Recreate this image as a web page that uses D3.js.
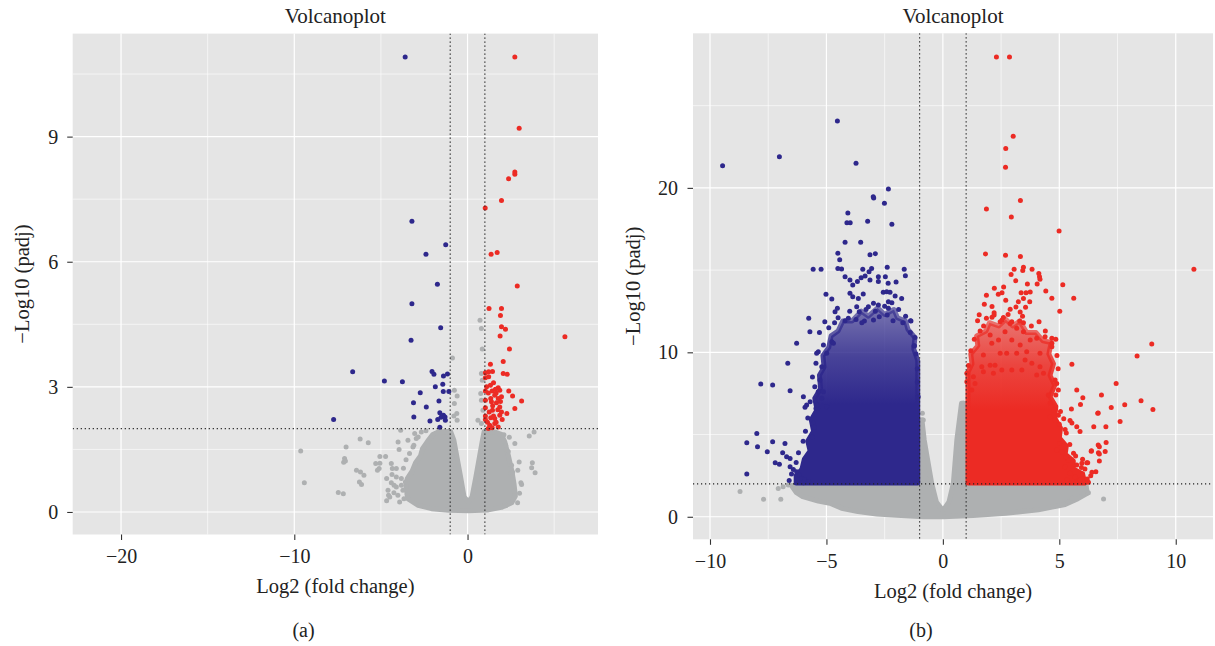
<!DOCTYPE html>
<html>
<head>
<meta charset="utf-8">
<script src="https://cdn.jsdelivr.net/npm/d3@7"></script>
<style>
  body { margin: 0; background: #ffffff; }
  svg { display: block; }
  text { font-family: "Liberation Serif", "Times New Roman", serif; fill: #222222; }
</style>
</head>
<body>
<script>
// ---------------------------------------------------------------
// Volcano plots: log2 fold change vs -log10 adjusted p value
// ---------------------------------------------------------------

// Significance cut-offs
const fcCut = [-1, 1];
const padjCut = 2;

// Tick values
const aXTicks = [-20, -10, 0];
const aYTicks = [0, 3, 6, 9];
const bXTicks = [-10, -5, 0, 5, 10];
const bYTicks = [0, 10, 20];

// ---------- Panel (a) ----------
// down-regulated genes [log2FC, -log10 padj]
const aBlue = [
  [-3.6,10.91],[-3.21,6.97],[-1.26,6.41],[-2.4,6.18],[-1.74,5.46],[-3.21,4.99],[-1.55,4.42],
  [-3.26,4.12],[-6.63,3.36],[-4.8,3.14],[-3.76,3.12],[-2.05,3.37],[-1.94,3.3],[-1.39,3.26],
  [-1.16,3.31],[-1.43,3.06],[-1.86,3.0],[-1.4,2.89],[-1.08,2.89],[-2.73,2.86],[-3.12,2.62],
  [-1.65,2.66],[-2.38,2.52],[-3.1,2.28],[-7.73,2.22],[-1.6,2.38],[-1.39,2.32],[-1.53,2.27],
  [-1.3,2.28],[-2.17,2.18],[-1.72,2.22],[-1.28,2.2],[-1.6,2.03]
];
// up-regulated genes
const aRed = [
  [2.73,10.91],[2.98,9.2],[2.73,8.15],[2.73,8.1],[2.37,7.99],[1.96,7.47],[1.02,7.29],
  [1.36,6.18],[1.71,6.22],[2.87,5.42],[1.24,4.88],[1.96,4.88],[1.9,4.71],[1.96,4.44],
  [2.19,4.38],[1.88,4.22],[5.62,4.2],[2.42,3.91],[2.06,3.61],[1.32,3.54],
  [1.03,3.34],[1.22,3.36],[1.44,3.37],[2.06,3.32],[2.29,3.3],[1.03,3.22],[1.22,3.24],
  [1.32,3.04],[1.77,2.98],[1.03,2.9],[1.42,2.9],[1.61,2.94],[1.86,2.92],[2.38,2.9],
  [2.6,2.78],[3.12,2.66],[1.57,2.8],[1.34,2.72],[1.77,2.72],[1.96,2.76],[1.03,2.68],
  [1.38,2.64],[1.67,2.62],[1.03,2.5],[1.44,2.44],[1.86,2.52],[1.96,2.4],[2.73,2.48],
  [2.27,2.36],[1.03,2.3],[1.34,2.26],[1.57,2.24],[1.86,2.32],[2.0,2.22],[1.03,2.22],
  [1.28,2.08],[1.57,2.12],[1.77,2.04],[1.42,2.02],[1.2,2.0],[1.1,3.0],[1.5,3.1],
  [1.65,2.85],[1.2,2.85],[1.45,2.55],[1.75,2.45],[1.25,2.4],[1.9,2.65],[1.5,2.3],
  [1.15,2.15],[1.65,2.15]
];
// non-significant genes outside the dense core
const aGray = [
  [0.72,4.6],[0.8,4.4],[0.85,3.91],[-0.87,3.69],
  [-0.76,2.92],[-0.6,2.78],[-0.76,2.6],[-0.62,2.36],[-0.79,2.3],[-0.6,2.2],
  [0.8,3.32],[0.85,3.16],[0.76,2.84],[0.8,2.68],[0.89,2.44],[0.6,2.2],[0.8,2.12],
  [-9.63,1.46],[-9.42,0.7],[-7.46,0.47],[-7.17,0.44],[-7.01,1.56],[-6.2,1.75],[-5.73,1.66],
  [-7.1,1.28],[-7.15,1.19],[-7.05,1.22],[-6.41,1.0],[-6.18,0.96],[-5.98,0.88],[-6.24,0.72],
  [-6.12,0.66],[-5.06,1.33],[-4.73,1.33],[-5.06,1.17],[-5.3,1.16],[-5.1,1.04],[-5.2,1.0],
  [-4.67,0.8],[-4.59,0.52],[-4.67,0.27],[-4.49,0.36],[-4.24,0.64],[-4.34,1.04],[-4.01,1.68],
  [-3.86,1.96],[-3.95,1.5],
  [-4.4,1.16],[-4.11,1.04],[-4.36,0.9],[-4.11,0.84],[-3.82,0.8],[-3.59,0.72],[-3.82,0.64],
  [-4.11,0.6],[-4.25,0.46],[-4.02,0.4],[-3.73,0.52],[-3.48,0.42],[-3.67,0.32],[-3.92,0.24],
  [-4.4,0.7],[-4.56,0.4],[-3.7,1.05],[-3.55,1.25],[-3.35,1.4],[-3.1,1.6],[-2.85,1.8],
  [-3.05,1.88],[-2.67,1.92],[-3.44,1.72],[-3.15,1.56],[-2.96,1.76],[-2.4,1.95],
  [2.41,1.79],[2.73,1.64],[2.98,1.2],[3.56,1.82],[3.84,1.92],[3.74,1.18],[3.7,1.06],
  [3.9,0.94],[3.08,0.7],[3.12,0.66],[2.89,0.22],[2.54,1.12],[2.48,0.92],
  [2.1,1.85],[2.2,1.6],[2.35,1.45],[2.6,0.95],[2.7,0.5],[2.2,0.15],[2.9,1.0],[3.0,0.45]
];
// outline of the dense non-significant core (point centres)
const aGrayCore = [
  [-3.45,0.32],[-3.55,0.6],[-3.48,0.8],[-3.2,0.98],[-3.0,1.18],[-2.72,1.34],[-2.6,1.52],
  [-2.3,1.7],[-2.0,1.86],[-1.7,1.92],[-1.25,1.93],[-0.98,1.93],[-0.79,1.72],[-0.4,0.84],
  [-0.2,0.36],[0.04,0.24],[0.26,0.36],[0.48,0.84],[0.86,1.72],[0.96,1.93],[1.55,1.92],
  [1.95,1.86],[2.15,1.68],[2.34,1.38],[2.55,1.0],[2.68,0.68],[2.76,0.38],[2.55,0.22],
  [1.95,0.11],[1.2,0.05],[0.04,0.03],[-1.1,0.04],[-2.08,0.08],[-2.85,0.16]
];

// ---------- Panel (b) ----------
const bBlue = [
  [-9.46,21.35],[-7.02,21.9],[-4.53,24.07],[-3.73,21.5],[-2.34,19.93],[-2.99,19.46],[-2.97,19.38],
  [-2.51,19.06],[-4.08,18.47],[-4.12,17.88],[-3.98,17.88],[-3.23,17.97],[-2.19,17.79],[-4.2,16.69],
  [-3.53,16.69],[-4.51,16.02],[-3.13,15.94],[-2.9,16.0],[-4.43,15.63],[-5.57,15.05],[-5.23,15.05],
  [-4.51,15.1],[-4.35,15.07],[-3.44,15.05],[-3.06,15.1],[-2.39,15.17],[-1.66,15.05],[-1.61,14.66],
  [-4.2,14.6],[-3.99,14.4],[-3.87,14.1],[-3.67,14.3],[-3.51,14.54],[-3.34,14.64],[-3.17,14.9],
  [-3.13,14.4],[-2.77,14.6],[-2.77,14.3],[-2.47,14.6],[-2.35,14.2],[-2.01,14.28],[-5.02,13.53],
  [-4.77,13.24],[-3.99,13.59],[-3.87,13.38],[-3.63,13.28],[-3.42,13.55],[-2.56,13.65],[-2.41,13.69],
  [-2.27,13.65],[-2.05,13.42],[-1.77,13.28],[-3.7,12.77],[-3.59,12.47],[-3.2,12.77],[-2.98,12.98],
  [-2.77,12.88],[-2.34,13.08],[-2.19,13.02],[-2.34,12.68],[-4.53,12.68],[-4.63,12.47],[-5.76,12.07],
  [-4.06,12.07],[-3.37,11.9],[-1.37,11.9],
  [-5.07,11.86],[-4.65,11.8],[-4.2,11.92],[-3.73,12.0],[-3.48,11.8],[-2.98,11.96],[-2.73,12.17],
  [-2.39,12.27],[-2.14,11.92],[-1.72,11.8],[-1.39,11.92],
  [-6.28,10.55],[-6.66,9.33],[-7.82,8.07],[-7.31,8.01],[-6.56,7.66],[-5.99,7.3],[-5.71,11.25],
  [-5.85,6.8],[-5.92,6.66],[-5.45,6.59],[-5.38,6.59],[-5.56,5.68],[-5.53,5.44],[-5.62,4.87],
  [-7.99,5.07],[-8.42,4.5],[-7.96,4.26],[-7.31,4.56],[-6.78,4.46],[-7.54,3.96],[-6.88,3.89],
  [-6.71,3.65],[-6.56,3.55],[-7.2,3.29],[-7.02,3.2],[-6.56,3.04],[-6.42,2.88],[-6.28,2.74],
  [-6.16,2.53],[-6.06,2.33],[-5.94,2.27],[-5.77,2.13],[-5.99,2.07],[-8.42,2.6],
  [-5.45,9.33],[-5.42,9.94],[-5.35,10.04],[-5.2,9.12],[-4.99,9.94],[-5.13,10.44],[-4.77,10.65],
  [-4.7,10.55],[-5.28,8.32],[-5.35,7.6],[-5.13,7.6],[-5.2,7.2],[-5.42,6.8],[-4.99,6.69],
  [-1.24,10.38],[-1.22,10.4],[-1.06,7.3],
  [-5.6,8.5],[-5.5,7.9],[-5.7,7.0],[-5.8,6.0],[-5.9,5.2],[-6.0,4.6],[-6.2,3.9],[-6.3,3.3],
  [-6.5,2.6],[-6.6,2.2],[-5.3,11.2],[-4.9,11.5],[-4.5,12.1],[-4.0,12.5],[-3.3,12.6],
  [-2.9,12.5],[-2.5,12.8],[-1.9,12.6],[-1.6,12.2],[-1.4,11.2],[-1.2,10.9],[-1.15,9.9],
  [-1.1,9.0],[-1.1,8.2]
];
const bRed = [
  [2.3,27.96],[2.86,27.96],[3.02,23.14],[2.7,22.39],[2.69,21.25],[3.33,19.24],[1.87,18.72],
  [2.94,18.23],[4.99,17.38],[1.83,15.98],[2.69,15.9],[3.33,15.82],[10.78,15.05],
  [3.06,15.05],[3.46,15.17],[3.43,14.97],[3.83,15.05],[4.12,14.8],[4.15,14.6],[4.17,14.44],
  [2.93,14.74],[3.13,14.36],[3.63,14.15],[4.05,14.15],[5.15,14.11],
  [2.21,13.89],[2.61,13.97],[2.38,13.53],[2.54,13.63],[1.87,13.47],[2.7,13.16],[3.36,13.63],
  [3.57,13.63],[3.75,13.67],[4.42,13.73],[4.68,13.29],[5.62,13.29],[1.78,12.92],[2.11,12.78],
  [2.89,12.62],[3.14,12.76],[3.55,12.74],[3.24,13.08],[3.46,13.27],[3.73,13.08],[5.02,12.5],
  [3.32,12.45],[3.42,12.2],[1.56,12.28],[2.11,12.14],[2.6,12.12],
  [1.49,11.92],[1.87,12.07],[2.2,12.27],[2.54,11.96],[2.96,11.86],[3.46,11.8],[4.13,11.86],
  [1.74,9.84],[2.03,9.22],[2.24,9.22],[2.46,9.94],[2.74,9.94],[3.17,9.94],[3.6,10.04],
  [4.17,9.94],[4.68,10.85],[4.68,10.55],[4.68,10.34],[4.39,10.95],[4.03,10.85],[3.75,10.75],
  [3.46,11.25],[3.17,11.46],[2.89,11.76],[2.46,11.86],[2.03,11.05],[2.1,10.55],[2.39,10.75],
  [2.67,11.25],[2.96,10.75],[3.32,10.44],[3.53,9.53],[3.82,9.33],[4.17,9.12],[4.32,8.72],
  [4.03,8.62],[3.39,8.92],[2.96,8.92],[2.53,8.92],[2.17,8.72],[1.67,9.12],[1.31,8.52],
  [1.38,8.11],[1.03,8.72],[1.03,8.21],[1.24,7.71],[1.74,8.82],
  [8.97,10.5],[8.34,9.77],[5.54,9.27],[7.44,8.11],[5.75,7.71],[6.81,7.4],[6.01,7.24],
  [8.51,7.06],[7.81,6.81],[9.02,6.53],[7.23,6.65],[5.52,6.55],[6.67,6.31],[5.91,6.83],
  [7.61,5.8],[6.48,5.47],[7.0,5.47],[5.89,5.19],[5.19,5.96],[5.54,5.7],[5.75,5.47],
  [5.46,5.86],[5.0,5.63],[5.25,5.31],[7.01,4.52],[6.67,4.36],[6.68,3.89],[6.97,3.97],
  [6.37,3.98],[6.72,3.39],[6.57,2.74],[6.18,3.29],[5.97,3.25],[5.75,3.15],[5.61,3.86],
  [5.39,3.45],[5.25,3.04],[5.46,2.64],[5.68,2.43],[5.89,2.23],[5.32,2.23],[5.01,4.46],
  [4.89,4.06],[5.11,3.96],[5.29,3.65],[4.6,6.08],[4.82,5.88],[4.96,6.18],[4.75,6.49],
  [4.6,6.9],[4.89,8.11],[4.96,7.71],[4.82,8.31],[4.53,7.4],[6.72,4.26],[6.72,3.81],
  [6.38,4.02],[6.22,3.28],[6.65,6.29],[6.2,2.3],[6.0,2.6],[6.35,2.5],[6.1,2.9],
  [1.1,9.2],[1.2,10.1],[1.35,10.8],[1.6,11.3],[1.75,11.6],[2.2,12.4],[2.8,12.3],[3.3,11.9],
  [3.8,11.6],[4.4,11.3],[4.85,10.8],[4.9,9.8],[4.95,9.0],[4.85,7.4],[5.05,6.4],[5.3,5.1],
  [5.45,4.4],[5.7,3.7],[5.95,3.0],[6.25,2.1],[6.4,2.7],[6.0,3.5]
];
const bGray = [
  [-8.71,1.54],[-7.7,1.06],[-6.96,1.06],[-7.07,1.72],[-6.86,1.83],[-6.64,1.93],
  [6.9,1.08],[5.68,1.83],[6.14,1.9],[6.04,1.42],[6.25,1.46],[5.54,1.12],[5.39,0.91],
  [-0.84,5.88],[-0.88,6.3],[0.88,6.9],[0.85,6.5]
];
// outline of the non-significant band along the bottom (point centres)
const bGrayCore = [
  [-6.5,1.9],[-1.08,1.9],[-0.9,5.9],[-0.8,4.66],[-0.48,2.03],[-0.28,0.9],[-0.04,0.45],
  [0.04,0.45],[0.26,0.9],[0.45,2.03],[0.6,4.66],[0.8,6.9],[0.9,6.9],[1.08,1.9],
  [6.15,1.9],[6.2,1.42],[5.8,1.1],[5.25,0.75],[4.1,0.42],[2.7,0.22],[1.3,0.08],
  [0.02,0.0],[-0.84,0.0],[-1.98,0.09],[-2.84,0.17],[-3.65,0.32],[-4.35,0.52],
  [-4.8,0.8],[-5.35,0.95],[-6.02,1.22],[-6.3,1.48]
];
// outlines of the crowded down/up-regulated clusters (point centres);
// crowding thins out towards the top of each cluster
const bBlueCloud = [
  [-1.08,2.05],[-1.08,9.5],[-1.25,10.2],[-1.2,10.9],[-1.5,11.4],[-1.6,11.9],[-1.95,12.1],
  [-2.1,12.6],[-2.5,12.3],[-2.8,12.7],[-3.2,12.2],[-3.5,12.5],[-3.9,11.9],[-4.3,11.9],
  [-4.5,11.3],[-4.8,11.0],[-4.9,10.3],[-5.15,9.8],[-5.1,9.1],[-5.3,8.6],[-5.25,7.8],
  [-5.5,7.2],[-5.4,6.5],[-5.65,5.9],[-5.55,5.2],[-5.8,4.6],[-5.7,4.0],[-5.95,3.5],
  [-6.05,2.9],[-6.3,2.5],[-6.3,2.05]
];
const bRedCloud = [
  [1.08,2.05],[1.08,8.8],[1.25,9.3],[1.2,9.9],[1.5,10.4],[1.45,11.0],[1.85,11.3],[2.0,11.8],
  [2.4,11.6],[2.7,12.0],[3.0,11.6],[3.3,11.9],[3.6,11.2],[4.0,11.2],[4.3,10.7],[4.65,10.6],
  [4.55,9.9],[4.75,9.3],[4.6,8.6],[4.8,8.0],[4.6,7.3],[4.85,6.7],[4.8,6.0],[5.05,5.4],
  [5.0,4.8],[5.3,4.3],[5.25,3.8],[5.6,3.4],[5.6,2.9],[6.0,2.6],[6.1,2.05]
];

// ---------- colours ----------
const colDown = "#2E288C";
const colUp = "#EC2B24";
const colNs = "#AEB0B1";
const colPanel = "#E5E5E5";

const W = 1215, H = 646;
const svg = d3.select("body").append("svg")
  .attr("width", W).attr("height", H)
  .attr("viewBox", `0 0 ${W} ${H}`);
const defs = svg.append("defs");

// vertical fade used for the crowded clusters: opaque at the base, thinner at the top
function fadeGradient(id, color) {
  const lg = defs.append("linearGradient").attr("id", id)
    .attr("x1", 0).attr("y1", 1).attr("x2", 0).attr("y2", 0);
  [[0, 1], [0.45, 1], [0.72, 0.86], [1, 0.6]].forEach(([o, a]) =>
    lg.append("stop").attr("offset", o).attr("stop-color", color).attr("stop-opacity", a));
  return `url(#${id})`;
}
const fillDown = fadeGradient("fade-down", colDown);
const fillUp = fadeGradient("fade-up", colUp);

const panels = [
  {
    id: "a", left: 72.7, right: 598, top: 33.6, bottom: 534.5,
    xDom: [-22.79, 7.53], yDom: [-0.54, 11.47],
    xTicks: aXTicks, yTicks: aYTicks,
    xMinor: [-15, -5, 5], yMinor: [1.5, 4.5, 7.5, 10.5],
    yPad: 9, xPad: 8.8, yTitleX: 29, caption: "(a)", capX: 303.5,
    layers: [
      { area: aGrayCore, paint: colNs },
      { pts: aGray, color: colNs },
      { pts: aBlue, color: colDown },
      { pts: aRed, color: colUp }
    ]
  },
  {
    id: "b", left: 693, right: 1213, top: 33.3, bottom: 539.3,
    xDom: [-10.73, 11.6], yDom: [-1.37, 29.4],
    xTicks: bXTicks, yTicks: bYTicks,
    xMinor: [-7.5, -2.5, 2.5, 7.5], yMinor: [5, 15, 25],
    yPad: 9.5, xPad: 9, yTitleX: 640, caption: "(b)", capX: 921,
    layers: [
      { area: bGrayCore, paint: colNs },
      { pts: bGray, color: colNs },
      { area: bBlueCloud, paint: fillDown },
      { pts: bBlue, color: colDown },
      { area: bRedCloud, paint: fillUp },
      { pts: bRed, color: colUp }
    ]
  }
];

panels.forEach(p => {
  const x = d3.scaleLinear().domain(p.xDom).range([p.left, p.right]);
  const y = d3.scaleLinear().domain(p.yDom).range([p.bottom, p.top]);
  const g = svg.append("g").attr("class", "panel-" + p.id);

  // panel background
  g.append("rect")
    .attr("x", p.left).attr("y", p.top)
    .attr("width", p.right - p.left).attr("height", p.bottom - p.top)
    .attr("fill", colPanel);

  // grid lines
  const grid = g.append("g").attr("stroke", "#ffffff").attr("fill", "none");
  p.xMinor.forEach(v => grid.append("line")
    .attr("x1", x(v)).attr("x2", x(v)).attr("y1", p.top).attr("y2", p.bottom)
    .attr("stroke-width", 0.6));
  p.yMinor.forEach(v => grid.append("line")
    .attr("y1", y(v)).attr("y2", y(v)).attr("x1", p.left).attr("x2", p.right)
    .attr("stroke-width", 0.6));
  p.xTicks.forEach(v => grid.append("line")
    .attr("x1", x(v)).attr("x2", x(v)).attr("y1", p.top).attr("y2", p.bottom)
    .attr("stroke-width", 1.2));
  p.yTicks.forEach(v => grid.append("line")
    .attr("y1", y(v)).attr("y2", y(v)).attr("x1", p.left).attr("x2", p.right)
    .attr("stroke-width", 1.2));

  // clip marks to the panel
  const clipId = "clip-" + p.id;
  defs.append("clipPath").attr("id", clipId)
    .append("rect")
    .attr("x", p.left).attr("y", p.top)
    .attr("width", p.right - p.left).attr("height", p.bottom - p.top);
  const plot = g.append("g").attr("clip-path", `url(#${clipId})`);

  const outline = d3.line()
    .x(d => x(d[0])).y(d => y(d[1]))
    .curve(d3.curveLinearClosed);

  p.layers.forEach(layer => {
    if (layer.area) {
      // crowded region: outline through the outermost point centres, widened by a point radius
      plot.append("path")
        .datum(layer.area)
        .attr("d", outline)
        .attr("fill", layer.paint)
        .attr("stroke", layer.paint)
        .attr("stroke-width", 5)
        .attr("stroke-linejoin", "round");
    } else {
      plot.append("g").selectAll("circle")
        .data(layer.pts)
        .join("circle")
        .attr("cx", d => x(d[0]))
        .attr("cy", d => y(d[1]))
        .attr("r", 2.5)
        .attr("fill", layer.color);
    }
  });

  // threshold lines
  const thr = plot.append("g")
    .attr("stroke", "#222222").attr("stroke-width", 1.2)
    .attr("stroke-dasharray", "1.2,2.8").attr("fill", "none");
  fcCut.forEach(v => thr.append("line")
    .attr("x1", x(v)).attr("x2", x(v)).attr("y1", p.top).attr("y2", p.bottom));
  thr.append("line")
    .attr("x1", p.left).attr("x2", p.right)
    .attr("y1", y(padjCut)).attr("y2", y(padjCut));

  // axes
  const yAxis = d3.axisLeft(y).tickValues(p.yTicks).tickSize(5.5).tickPadding(p.yPad);
  const xAxis = d3.axisBottom(x).tickValues(p.xTicks).tickSize(5.5).tickPadding(p.xPad);
  const ya = g.append("g").attr("transform", `translate(${p.left},0)`).call(yAxis);
  const xa = g.append("g").attr("transform", `translate(0,${p.bottom})`).call(xAxis);
  [ya, xa].forEach(a => {
    a.select(".domain").remove();
    a.selectAll(".tick line").attr("stroke", "#333333").attr("stroke-width", 1.1);
    a.selectAll(".tick text")
      .attr("fill", "#222222")
      .style("font-family", '"Liberation Serif", "Times New Roman", serif')
      .style("font-size", "20px");
  });

  const cx = (p.left + p.right) / 2;
  // title
  g.append("text")
    .attr("x", cx).attr("y", 23.3)
    .attr("text-anchor", "middle")
    .style("font-size", "21px")
    .text("Volcanoplot");
  // x axis title
  g.append("text")
    .attr("x", cx).attr("y", p.bottom + 58.6)
    .attr("text-anchor", "middle")
    .style("font-size", "20.5px")
    .text("Log2 (fold change)");
  // y axis title
  g.append("text")
    .attr("transform", `translate(${p.yTitleX},${(p.top + p.bottom) / 2}) rotate(-90)`)
    .attr("text-anchor", "middle")
    .style("font-size", "20.5px")
    .text("\u2212Log10 (padj)");
  // sub-figure label
  g.append("text")
    .attr("x", p.capX).attr("y", 637)
    .attr("text-anchor", "middle")
    .style("font-size", "20px")
    .text(p.caption);
});
</script>
</body>
</html>
